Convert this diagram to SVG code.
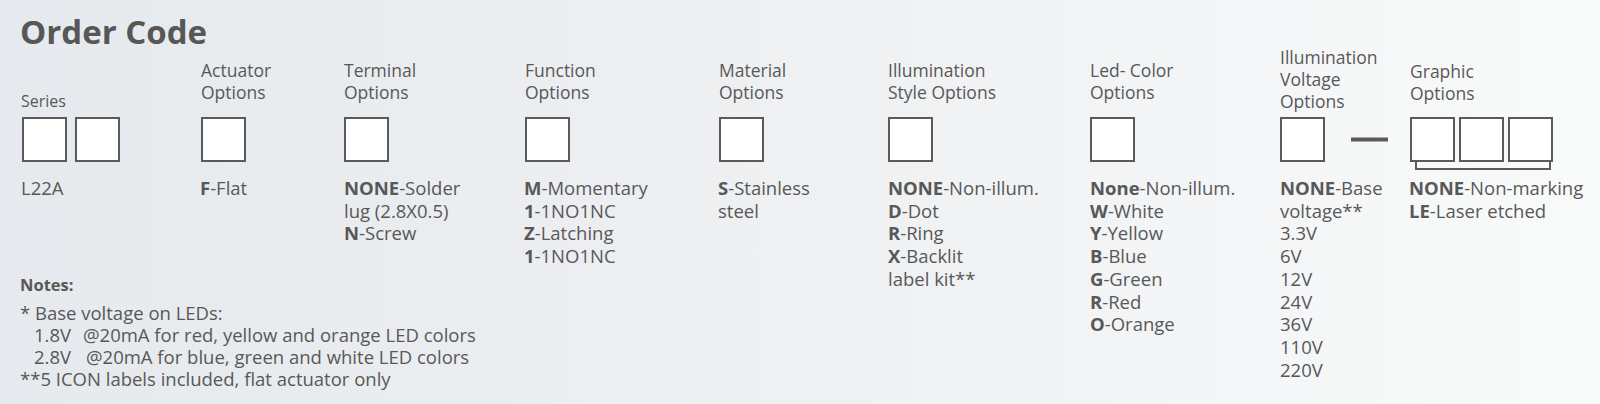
<svg xmlns="http://www.w3.org/2000/svg" width="1600" height="404" viewBox="0 0 1600 404">
<defs>
<linearGradient id="bg" x1="0" y1="0" x2="1" y2="0">
<stop offset="0" stop-color="#e6e9ed"/>
<stop offset="0.5" stop-color="#eef0f2"/>
<stop offset="1" stop-color="#f9fafa"/>
</linearGradient>
</defs>
<style>
text{font-family:"Open Sans","Noto Sans","Liberation Sans",sans-serif;fill:#585858;font-size:18.5px}
.t{font-size:33px;font-weight:700;fill:#575757}
.h{font-size:17.5px}
.s{font-size:16px}
.b{font-weight:700}
.n{font-size:16.5px;font-weight:700}
.box{fill:#ffffff;stroke:#5a5a5a;stroke-width:2}
.ln{fill:none;stroke:#5a5a5a;stroke-width:2}
</style>
<rect width="1600" height="404" fill="url(#bg)"/>
<text class="t" x="20" y="44">Order Code</text>

<g id="series">
<text class="s" x="21" y="107">Series</text>
<rect class="box" x="23" y="118" width="43" height="43"/>
<rect class="box" x="76" y="118" width="43" height="43"/>
<text x="21" y="195">L22A</text>
</g>

<g id="actuator">
<text class="h" x="201" y="77">Actuator</text>
<text class="h" x="201" y="99">Options</text>
<rect class="box" x="202" y="118" width="43" height="43"/>
<text x="200" y="195"><tspan class="b">F</tspan>-Flat</text>
</g>

<g id="terminal">
<text class="h" x="344" y="77">Terminal</text>
<text class="h" x="344" y="99">Options</text>
<rect class="box" x="345" y="118" width="43" height="43"/>
<text x="344" y="195"><tspan class="b">NONE</tspan>-Solder</text>
<text x="344" y="217.7">lug (2.8X0.5)</text>
<text x="344" y="240.4"><tspan class="b">N</tspan>-Screw</text>
</g>

<g id="function">
<text class="h" x="525" y="77">Function</text>
<text class="h" x="525" y="99">Options</text>
<rect class="box" x="526" y="118" width="43" height="43"/>
<text x="524" y="195"><tspan class="b">M</tspan>-Momentary</text>
<text x="524" y="217.7"><tspan class="b">1</tspan>-1NO1NC</text>
<text x="524" y="240.4"><tspan class="b">Z</tspan>-Latching</text>
<text x="524" y="263.1"><tspan class="b">1</tspan>-1NO1NC</text>
</g>

<g id="material">
<text class="h" x="719" y="77">Material</text>
<text class="h" x="719" y="99">Options</text>
<rect class="box" x="720" y="118" width="43" height="43"/>
<text x="718" y="195"><tspan class="b">S</tspan>-Stainless</text>
<text x="718" y="217.7">steel</text>
</g>

<g id="illumination-style">
<text class="h" x="888" y="77">Illumination</text>
<text class="h" x="888" y="99">Style Options</text>
<rect class="box" x="889" y="118" width="43" height="43"/>
<text x="888" y="195"><tspan class="b">NONE</tspan>-Non-illum.</text>
<text x="888" y="217.7"><tspan class="b">D</tspan>-Dot</text>
<text x="888" y="240.4"><tspan class="b">R</tspan>-Ring</text>
<text x="888" y="263.1"><tspan class="b">X</tspan>-Backlit</text>
<text x="888" y="285.8">label kit**</text>
</g>

<g id="led-color">
<text class="h" x="1090" y="77">Led- Color</text>
<text class="h" x="1090" y="99">Options</text>
<rect class="box" x="1091" y="118" width="43" height="43"/>
<text x="1090" y="195"><tspan class="b">None</tspan>-Non-illum.</text>
<text x="1090" y="217.7"><tspan class="b">W</tspan>-White</text>
<text x="1090" y="240.4"><tspan class="b">Y</tspan>-Yellow</text>
<text x="1090" y="263.1"><tspan class="b">B</tspan>-Blue</text>
<text x="1090" y="285.8"><tspan class="b">G</tspan>-Green</text>
<text x="1090" y="308.5"><tspan class="b">R</tspan>-Red</text>
<text x="1090" y="331.2"><tspan class="b">O</tspan>-Orange</text>
</g>

<g id="illumination-voltage">
<text class="h" x="1280" y="64">Illumination</text>
<text class="h" x="1280" y="86">Voltage</text>
<text class="h" x="1280" y="108">Options</text>
<rect class="box" x="1281" y="118" width="43" height="43"/>
<text x="1280" y="195"><tspan class="b">NONE</tspan>-Base</text>
<text x="1280" y="217.7">voltage**</text>
<text x="1280" y="240.4">3.3V</text>
<text x="1280" y="263.1">6V</text>
<text x="1280" y="285.8">12V</text>
<text x="1280" y="308.5">24V</text>
<text x="1280" y="331.2">36V</text>
<text x="1280" y="353.9">110V</text>
<text x="1280" y="376.6">220V</text>
</g>

<g id="connectors">
<line x1="1351" y1="139.5" x2="1388" y2="139.5" stroke="#5a5a5a" stroke-width="4"/>
</g>

<g id="graphic">
<text class="h" x="1410" y="78">Graphic</text>
<text class="h" x="1410" y="100">Options</text>
<rect class="box" x="1411" y="118" width="43" height="43"/>
<rect class="box" x="1460" y="118" width="43" height="43"/>
<rect class="box" x="1509" y="118" width="43" height="43"/>
<path class="ln" d="M1416 162 V169 H1550 V162"/>
<text x="1409" y="195"><tspan class="b">NONE</tspan>-Non-marking</text>
<text x="1409" y="217.7"><tspan class="b">LE</tspan>-Laser etched</text>
</g>

<g id="notes">
<text class="n" x="20" y="291">Notes:</text>
<text x="20" y="320">* Base voltage on LEDs:</text>
<text y="342"><tspan x="34">1.8V</tspan><tspan x="83">@20mA for red, yellow and orange LED colors</tspan></text>
<text y="364"><tspan x="34">2.8V</tspan><tspan x="86">@20mA for blue, green and white LED colors</tspan></text>
<text x="20" y="386">**5 ICON labels included, flat actuator only</text>
</g>
</svg>
